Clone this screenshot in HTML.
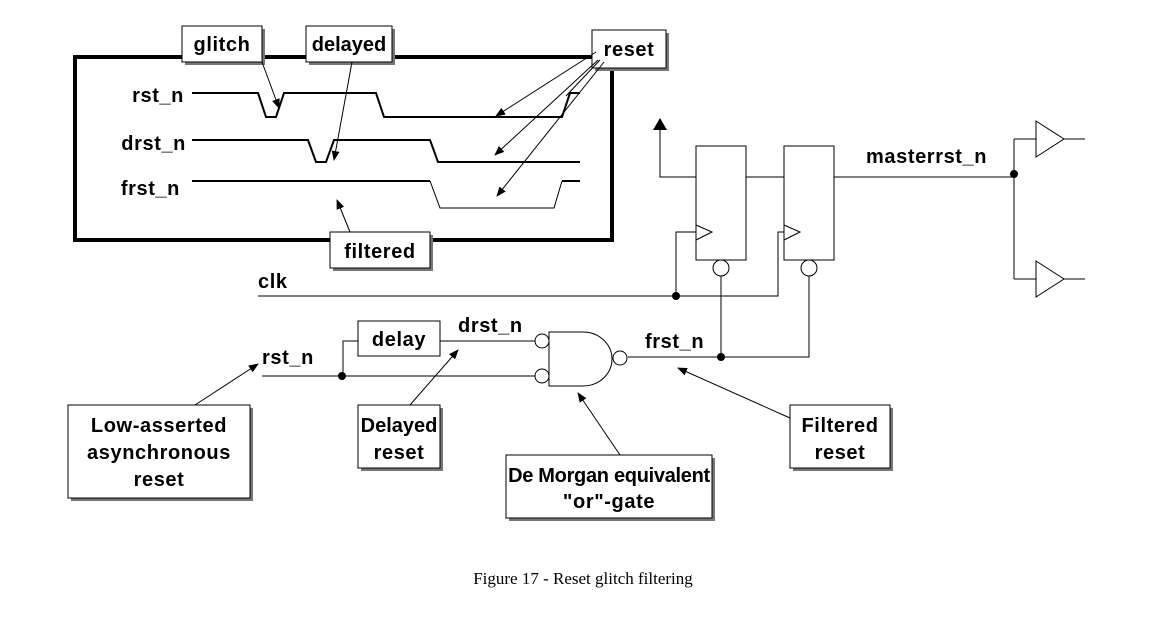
<!DOCTYPE html>
<html><head><meta charset="utf-8"><style>
body{margin:0;background:#fff;width:1166px;height:617px;overflow:hidden}
svg{display:block}
text{font-family:"Liberation Sans",sans-serif;font-weight:bold;font-size:20px;letter-spacing:0.6px;fill:#000}
.t{stroke:#000;stroke-width:1;fill:none}
.k{stroke:#000;stroke-width:2;fill:none}
</style></head><body>
<svg width="1166" height="617" viewBox="0 0 1166 617">
<defs><marker id="a" markerWidth="10" markerHeight="8" refX="9" refY="4" orient="auto" markerUnits="userSpaceOnUse"><path d="M0,0L10,4L0,8z" fill="#000"/></marker></defs>
<rect x="75" y="57" width="537" height="183" fill="none" stroke="#000" stroke-width="4"/>
<text x="184" y="102" text-anchor="end">rst_n</text>
<text x="186" y="150" text-anchor="end">drst_n</text>
<text x="180" y="195" text-anchor="end">frst_n</text>
<path class="k" d="M192,93H258L266,117H276L284,93H376L384,117H562L570,93H580"/>
<path class="k" d="M192,140H308L316,162H326L334,140H430L438,162H580"/>
<path class="k" d="M192,181H430M562,181H580"/>
<path class="t" d="M430,181L440,208H554L562,181"/>
<g>
<rect x="185" y="29" width="80" height="36" fill="#777"/><rect x="182" y="26" width="80" height="36" fill="#fff" stroke="#000"/><text x="222" y="51" text-anchor="middle">glitch</text>
<rect x="309" y="29" width="86" height="36" fill="#777"/><rect x="306" y="26" width="86" height="36" fill="#fff" stroke="#000"/><text x="349" y="51" text-anchor="middle" style="letter-spacing:0">delayed</text>
<rect x="595" y="33" width="74" height="38" fill="#777"/><rect x="592" y="30" width="74" height="38" fill="#fff" stroke="#000"/><text x="629" y="56" text-anchor="middle">reset</text>
<rect x="333" y="235" width="100" height="36" fill="#777"/><rect x="330" y="232" width="100" height="36" fill="#fff" stroke="#000"/><text x="380" y="258" text-anchor="middle">filtered</text>
</g>
<path class="t" marker-end="url(#a)" d="M262,62L279,108"/>
<path class="t" marker-end="url(#a)" d="M352,62L334,160"/>
<path class="t" marker-end="url(#a)" d="M596,52L496,116"/>
<path class="t" marker-end="url(#a)" d="M598,60L495,155"/>
<path class="t" marker-end="url(#a)" d="M604,62L497,196"/>
<path class="t" d="M600,60L566,96"/>
<path class="t" marker-end="url(#a)" d="M350,232L337,200"/>
<rect class="t" x="696" y="146" width="50" height="114"/>
<rect class="t" x="784" y="146" width="50" height="114"/>
<path class="t" d="M696,225L712,232L696,240M784,225L800,232L784,240"/>
<circle class="t" cx="721" cy="268" r="8" fill="#fff"/>
<circle class="t" cx="809" cy="268" r="8" fill="#fff"/>
<path class="t" d="M696,177H660V128"/><path d="M653,130L660,118L667,130z" fill="#000"/>
<path class="t" d="M746,177H784M834,177H1014M1014,139V279M1014,139H1036M1014,279H1036"/>
<circle cx="1014" cy="174" r="4"/>
<text x="866" y="163">masterrst_n</text>
<path class="t" d="M1036,121L1064,139L1036,157zM1064,139H1085M1036,261L1064,279L1036,297zM1064,279H1085"/>
<text x="258" y="288">clk</text>
<path class="t" d="M258,296H778V232H784M676,296V232H696"/>
<circle cx="676" cy="296" r="4"/>
<path class="t" d="M721,276V357M809,276V357H628"/>
<circle cx="721" cy="357" r="4"/>
<text x="645" y="348">frst_n</text>
<path class="t" d="M549,332H583A29,27 0 0 1 583,386H549Z"/>
<circle class="t" cx="620" cy="358" r="7"/>
<circle class="t" cx="542" cy="341" r="7"/>
<circle class="t" cx="542" cy="376" r="7"/>
<path class="t" d="M440,341H535M262,376H535M358,341H343V376"/>
<circle cx="342" cy="376" r="4"/>
<rect class="t" x="358" y="321" width="82" height="35"/>
<text x="399" y="346" text-anchor="middle">delay</text>
<text x="458" y="332">drst_n</text>
<text x="262" y="364">rst_n</text>
<rect x="71" y="408" width="182" height="93" fill="#777"/><rect x="68" y="405" width="182" height="93" fill="#fff" stroke="#000"/>
<text x="159" y="432" text-anchor="middle">Low-asserted</text><text x="159" y="459" text-anchor="middle">asynchronous</text><text x="159" y="486" text-anchor="middle">reset</text>
<rect x="361" y="408" width="82" height="63" fill="#777"/><rect x="358" y="405" width="82" height="63" fill="#fff" stroke="#000"/>
<text x="399" y="432" text-anchor="middle" style="letter-spacing:0">Delayed</text><text x="399" y="459" text-anchor="middle">reset</text>
<rect x="509" y="458" width="206" height="63" fill="#777"/><rect x="506" y="455" width="206" height="63" fill="#fff" stroke="#000"/>
<text x="609" y="482" text-anchor="middle" style="letter-spacing:-0.3px">De Morgan equivalent</text><text x="609" y="508" text-anchor="middle">"or"-gate</text>
<rect x="793" y="408" width="100" height="63" fill="#777"/><rect x="790" y="405" width="100" height="63" fill="#fff" stroke="#000"/>
<text x="840" y="432" text-anchor="middle">Filtered</text><text x="840" y="459" text-anchor="middle">reset</text>
<path class="t" marker-end="url(#a)" d="M195,405L258,364"/>
<path class="t" marker-end="url(#a)" d="M410,405L458,350"/>
<path class="t" marker-end="url(#a)" d="M620,455L578,393"/>
<path class="t" marker-end="url(#a)" d="M790,418L678,368"/>
<text x="583" y="584" text-anchor="middle" style="font-family:'Liberation Serif',serif;font-weight:normal;font-size:17px;letter-spacing:0">Figure 17 - Reset glitch filtering</text>
</svg>
</body></html>
